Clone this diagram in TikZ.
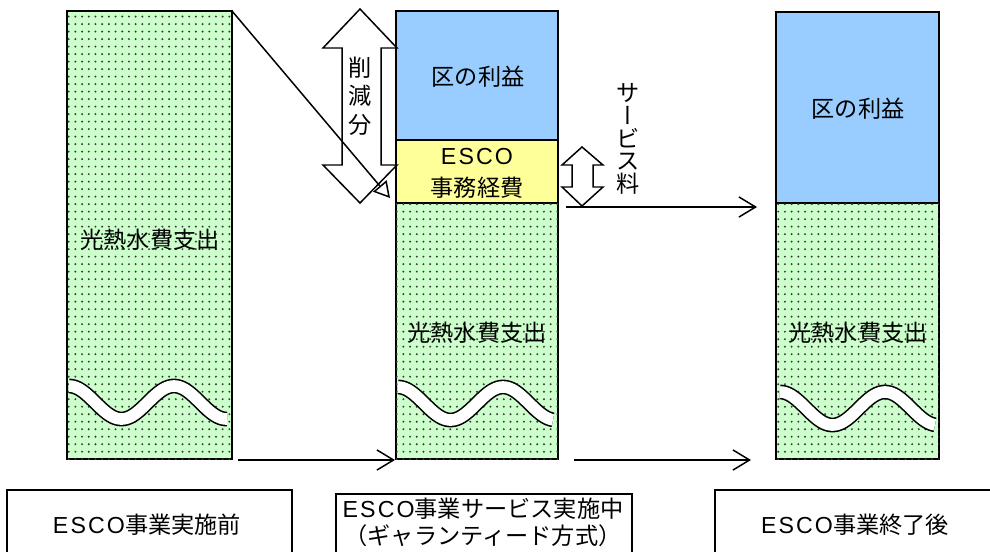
\documentclass[tikz,border=0pt]{standalone}
\usepackage{fontspec}
\setmainfont{Noto Sans CJK JP}
\newfontfamily\latinfont{Liberation Sans}
\newfontfamily\vertfont[RawFeature=+vert]{Noto Sans CJK JP}
\usetikzlibrary{arrows.meta,patterns}
\definecolor{grn}{HTML}{CCFFCC}
\definecolor{blu}{HTML}{99CCFF}
\definecolor{yel}{HTML}{FFFF99}
\pgfdeclarepatternformonly{escodots}{\pgfqpoint{-1pt}{-1pt}}{\pgfqpoint{4pt}{4.5pt}}{\pgfqpoint{3.81pt}{4.27pt}}{\pgfpathcircle{\pgfqpoint{1pt}{1pt}}{0.62pt}\pgfusepath{fill}}
\newcommand\escotxt{{\latinfont E\kern1.2pt S\kern1.2pt C\kern1.2pt O}}
\tikzset{
  colbox/.style={draw=black, line width=1.1pt, anchor=north west, inner sep=0pt, outer sep=0pt},
  greenbox/.style={colbox, fill=grn, postaction={pattern=escodots, pattern color=black!78}},
  bluebox/.style={colbox, fill=blu},
  yellowbox/.style={colbox, fill=yel},
  lbl/.style={font=\fontsize{13.2}{15}\selectfont, inner sep=0pt},
  vlbl/.style={inner sep=0pt, align=center},
  capbox/.style={draw=black, line width=1.1pt},
  conn/.style={draw=black, line width=0.85pt, -{Straight Barb[length=9.5pt,width=11.5pt]}},
  diag/.style={draw=black, line width=0.85pt, -{Triangle[open,length=9pt,width=10pt]}},
  blockarrow/.style={draw=black, line width=0.85pt, fill=white, line join=miter},
  wavestyle/.style={draw=black, line width=0.9pt, double=white, double distance=6.6pt, line join=round}
}
\newcommand\escowave[3]{%
  \begin{scope}[shift={(#1,#2)}]
  \draw[wavestyle] plot[domain=0:#3, samples=100] (\x, {16.5*(1-cos(\x*3.428571))});
  \end{scope}
}
\begin{document}
\begin{tikzpicture}[x=0.02cm, y=-0.02cm]
\useasboundingbox (0,0) rectangle (990,551);
\clip (0,0) rectangle (990,551);

% columns
\node[greenbox, minimum width=165*0.02cm, minimum height=448*0.02cm] (before) at (67,11) {};
\node[bluebox, minimum width=162*0.02cm, minimum height=129*0.02cm] (midprofit) at (396,11) {};
\node[yellowbox, minimum width=162*0.02cm, minimum height=63*0.02cm] (midfee) at (396,140) {};
\node[greenbox, minimum width=162*0.02cm, minimum height=256*0.02cm] (midcost) at (396,203) {};
\node[bluebox, minimum width=163*0.02cm, minimum height=191*0.02cm] (afterprofit) at (776,12) {};
\node[greenbox, minimum width=163*0.02cm, minimum height=256*0.02cm] (aftercost) at (776,203) {};

% waves
\escowave{69}{386}{158}
\escowave{398}{387}{155}
\escowave{780}{392}{155}

% column texts
\node[lbl] (t1) at (150,240) {光熱水費支出};
\node[lbl] (t2) at (477,333) {光熱水費支出};
\node[lbl] (t3) at (858,333) {光熱水費支出};
\node[lbl] (p1) at (478,77) {区の利益};
\node[lbl] (p2) at (858,109) {区の利益};
\node[lbl] (f1) at (477,157) {\escotxt};
\node[lbl] (f2) at (477,188) {事務経費};

% big block double arrow
\draw[blockarrow] (360,9) -- (397,48) -- (381,48) -- (381,165) -- (397,165) -- (360,203)
  -- (323,165) -- (342,165) -- (342,48) -- (323,48) -- cycle;
\node[vlbl, font=\fontsize{13.2}{16.3}\selectfont] (cut) at (360,96) {削\\減\\分};

% small block double arrow
\draw[blockarrow] (582,147) -- (603,165) -- (593,165) -- (593,187) -- (603,187) -- (582,206)
  -- (562,187) -- (572,187) -- (572,165) -- (562,165) -- cycle;
\node[vlbl, font=\fontsize{13.2}{13}\selectfont] (svc) at (628,139) {サ\\{\vertfont ー}\\ビ\\ス\\料};

% connectors
\coordinate (d0) at (before.north east);
\coordinate (d1) at (390,198);
\draw[diag] (d0) -- (d1);
\coordinate (a0) at (566,207);
\coordinate (a1) at (757,207);
\draw[conn] (a0) -- (a1);
\coordinate (b0) at (238,460);
\coordinate (b1) at (395,460);
\draw[conn] (b0) -- (b1);
\coordinate (c0) at (574,460);
\coordinate (c1) at (751,460);
\draw[conn] (c0) -- (c1);

% caption boxes
\draw[capbox] (7,490) rectangle (292,600);
\draw[capbox] (336,494) rectangle (632,600);
\draw[capbox] (715,490) rectangle (1000,600);
\node[lbl] (cap1) at (147,525) {\escotxt 事業実施前};
\node[lbl] (cap2a) at (483,509) {\escotxt 事業サービス実施中};
\node[lbl] (cap2b) at (483,536) {（ギャランティード方式）};
\node[lbl] (cap3) at (855,525) {\escotxt 事業終了後};
\end{tikzpicture}
\end{document}
